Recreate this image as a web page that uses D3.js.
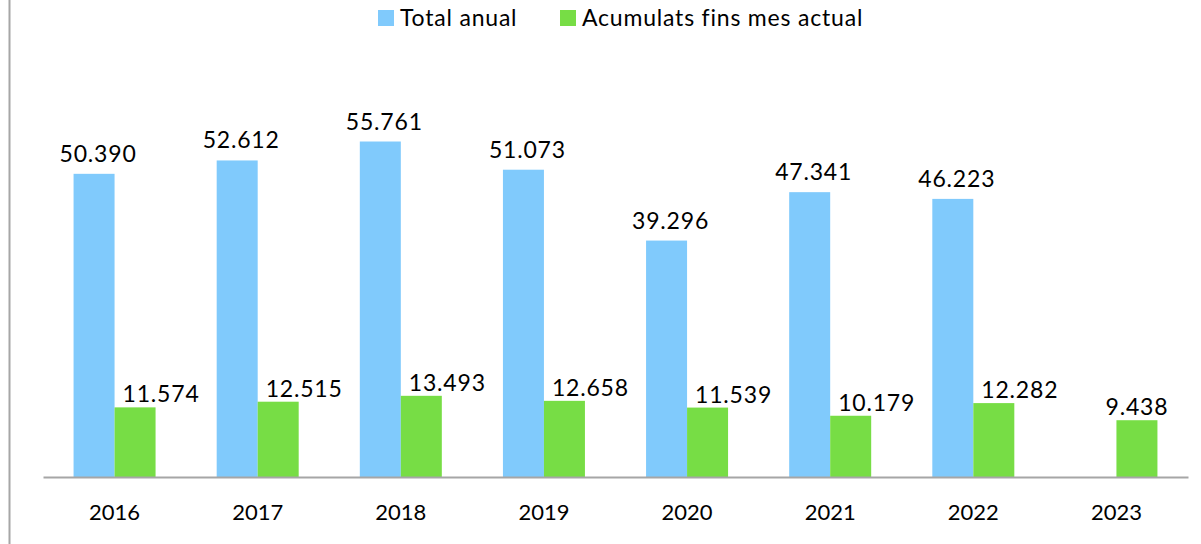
<!DOCTYPE html>
<html>
<head>
<meta charset="utf-8">
<script src="https://cdn.jsdelivr.net/npm/d3@7"></script>
<style>
  body { margin: 0; background: #fff; }
  svg text { font-family: Lato, 'Open Sans', sans-serif; fill: #000; }
</style>
</head>
<body>
<div id="chart"></div>
<script>
// chart data
const years = ['2016', '2017', '2018', '2019', '2020', '2021', '2022', '2023']
const totalAnual = [50390, 52612, 55761, 51073, 39296, 47341, 46223, null]
const acumulats = [11574, 12515, 13493, 12658, 11539, 10179, 12282, 9438]
const seriesNames = ['Total anual', 'Acumulats fins mes actual']

const colors = ['#80cafc', '#77dd45']
const width = 1201
const height = 544
const margin = { top: 116, right: 13, bottom: 67, left: 43 }
const fmt = v => d3.format(',.3f')(v / 1000).replace(',', '.')

const svg = d3.select('#chart')
  .append('svg')
  .attr('width', width)
  .attr('height', height)

// left border line
svg.append('line')
  .attr('x1', 9.5).attr('x2', 9.5)
  .attr('y1', 0).attr('y2', height)
  .attr('stroke', '#a6a6a6')
  .attr('stroke-width', 2)

const x = d3.scaleBand()
  .domain(years)
  .range([margin.left, width - margin.right])

const barW = 41

const y = d3.scaleLinear()
  .domain([0, 60000])
  .range([height - margin.bottom, margin.top])

const rows = years.map((yr, i) => ({ year: yr, total: totalAnual[i], acc: acumulats[i] }))

// total anual bars
const blue = rows.filter(d => d.total != null)
svg.selectAll('.bar-total')
  .data(blue)
  .join('rect')
  .attr('class', 'bar-total')
  .attr('x', d => x(d.year) + x.bandwidth() / 2 - barW)
  .attr('y', d => y(d.total))
  .attr('width', barW)
  .attr('height', d => y(0) - y(d.total))
  .attr('fill', colors[0])

svg.selectAll('.lbl-total')
  .data(blue)
  .join('text')
  .attr('class', 'lbl-total')
  .attr('x', d => x(d.year) + x.bandwidth() / 2 - barW / 2 + 4)
  .attr('y', d => y(d.total) - 12)
  .attr('text-anchor', 'middle')
  .style('font-size', '23px')
  .style('letter-spacing', '0.8px')
  .text(d => fmt(d.total))

// acumulats bars
svg.selectAll('.bar-acc')
  .data(rows)
  .join('rect')
  .attr('class', 'bar-acc')
  .attr('x', d => x(d.year) + x.bandwidth() / 2)
  .attr('y', d => y(d.acc))
  .attr('width', barW)
  .attr('height', d => y(0) - y(d.acc))
  .attr('fill', colors[1])

svg.selectAll('.lbl-acc')
  .data(rows)
  .join('text')
  .attr('class', 'lbl-acc')
  .attr('x', d => x(d.year) + x.bandwidth() / 2 + barW / 2 + (d.total != null ? 26 : 0))
  .attr('y', d => y(d.acc) - 5)
  .attr('text-anchor', 'middle')
  .style('font-size', '23px')
  .style('letter-spacing', '0.8px')
  .text(d => fmt(d.acc))

// x axis
const axis = svg.append('g')
  .attr('transform', `translate(0,${y(0)})`)
  .call(d3.axisBottom(x).tickSize(0).tickPadding(27))
axis.select('.domain').attr('stroke', '#a6a6a6').attr('stroke-width', 2)
axis.selectAll('text')
  .style('font-size', '22px')
  .style('font-family', 'Lato, sans-serif')
  .attr('fill', '#000')

// legend
const legend = svg.append('g')
const legendX = [378, 560]
seriesNames.forEach((name, i) => {
  const g = legend.append('g').attr('transform', `translate(${legendX[i]},10)`)
  g.append('rect')
    .attr('width', 16)
    .attr('height', 16)
    .attr('fill', colors[i])
  g.append('text')
    .attr('x', 22)
    .attr('y', 16)
    .style('font-size', '23px')
    .style('letter-spacing', '0.8px')
    .text(name)
})
</script>
</body>
</html>
